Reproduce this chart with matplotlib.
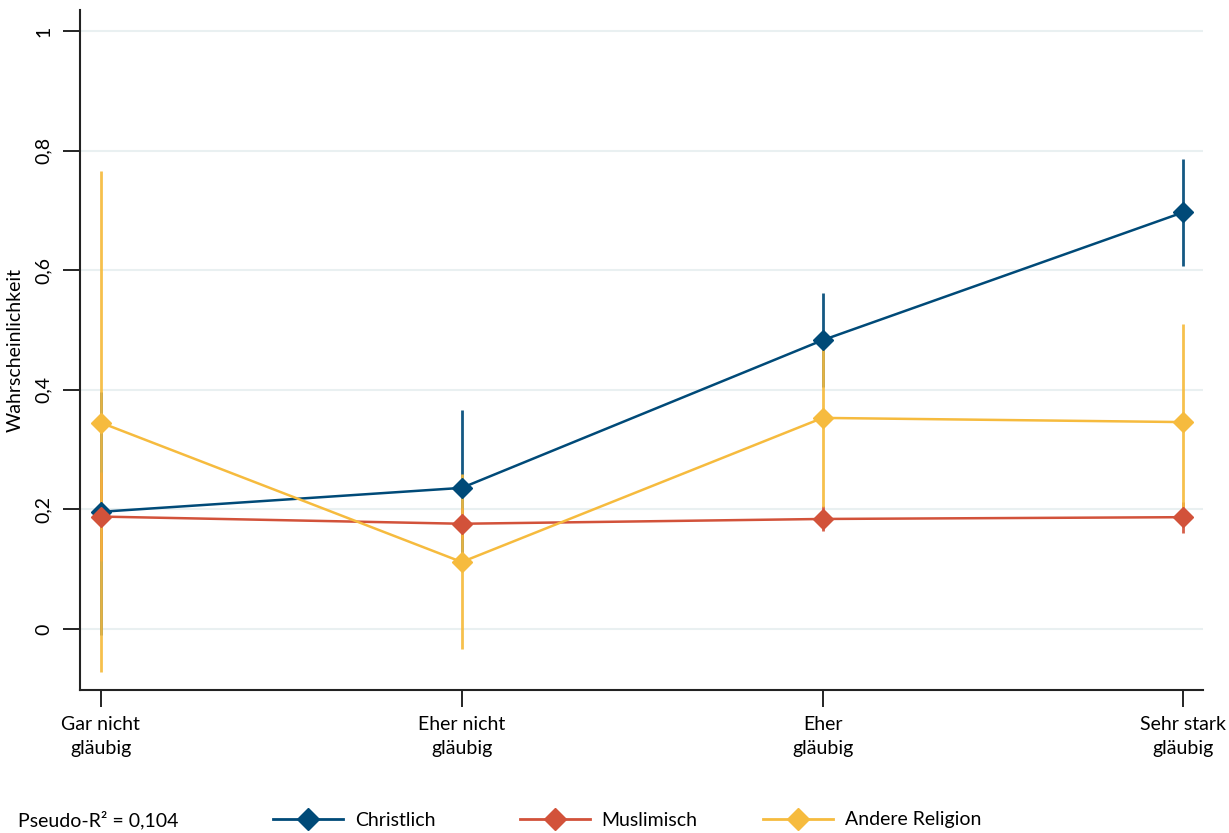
import matplotlib.pyplot as plt
from matplotlib.lines import Line2D
from matplotlib.ticker import FuncFormatter

# Categories on the x axis
categories = ['Gar nicht\ngläubig', 'Eher nicht\ngläubig', 'Eher\ngläubig', 'Sehr stark\ngläubig']

# Predicted probabilities with confidence bounds
christ = [0.196, 0.236, 0.483, 0.697]
christ_lo = [-0.01, 0.106, 0.405, 0.607]
christ_hi = [0.396, 0.366, 0.562, 0.786]

muslim = [0.188, 0.176, 0.184, 0.187]
muslim_lo = [0.114, 0.150, 0.164, 0.160]
muslim_hi = [0.262, 0.202, 0.205, 0.212]

other = [0.345, 0.112, 0.353, 0.346]
other_lo = [-0.072, -0.033, 0.204, 0.182]
other_hi = [0.766, 0.260, 0.480, 0.510]

series_names = ['Christlich', 'Muslimisch', 'Andere Religion']
colors = ['#004a78', '#d2523a', '#f6bb3e']

plt.rcParams['font.family'] = ['Lato', 'DejaVu Sans']

fig = plt.figure(figsize=(12.29, 8.33), dpi=100)
ax = fig.add_axes([0.0651, 1 - 690 / 833, 0.914, 680 / 833])

x = list(range(1, len(categories) + 1))
data = [(christ, christ_lo, christ_hi), (muslim, muslim_lo, muslim_hi), (other, other_lo, other_hi)]

for (vals, lo, hi), col in zip(data, colors):
    ax.vlines(x, lo, hi, color=col, linewidth=2, alpha=0.92, zorder=2)
for (vals, lo, hi), col in zip(data, colors):
    ax.plot(x, vals, color=col, linewidth=1.8, marker='D', markersize=10, zorder=3)

ax.set_xlim(0.942, 4.055)
ax.set_ylim(-(690 - 629) / 598, (629 - 10) / 598)
ax.set_xticks(x)
ax.set_xticklabels(categories, fontsize=14, linespacing=1.45)
ax.set_yticks([0, 0.2, 0.4, 0.6, 0.8, 1])
ax.yaxis.set_major_formatter(FuncFormatter(lambda v, p: f'{v:g}'.replace('.', ',')))
for lab in ax.get_yticklabels():
    lab.set_rotation(90)
    lab.set_va('center')
ax.tick_params(axis='y', labelsize=14, length=12, width=1.2, pad=8)
ax.tick_params(axis='x', labelsize=14, length=12, width=1.2, pad=7)
ax.grid(axis='y', color='#e9f0f1', linewidth=1.5, zorder=0)
ax.set_axisbelow(True)
ax.set_ylabel('Wahrscheinlichkeit', fontsize=14, labelpad=8)

for side in ['top', 'right']:
    ax.spines[side].set_visible(False)
for side in ['left', 'bottom']:
    ax.spines[side].set_linewidth(1.5)
    ax.spines[side].set_color('#222222')

fig.text(18 / 1229, 1 - 820 / 833, 'Pseudo-R² = 0,104', fontsize=14, va='center', ha='left')

# one legend per entry so each sits where it does in the original
legend_x = [273, 520, 763]
for name, col, lx in zip(series_names, colors, legend_x):
    h = Line2D([0], [0], color=col, linewidth=2, marker='D', markersize=11)
    fig.legend([h], [name], loc='center left', bbox_to_anchor=(lx / 1229, 1 - 820 / 833),
               frameon=False, fontsize=14, handlelength=3.6, handletextpad=0.6,
               borderaxespad=0, borderpad=0)

fig.savefig('out.png', dpi=100)
